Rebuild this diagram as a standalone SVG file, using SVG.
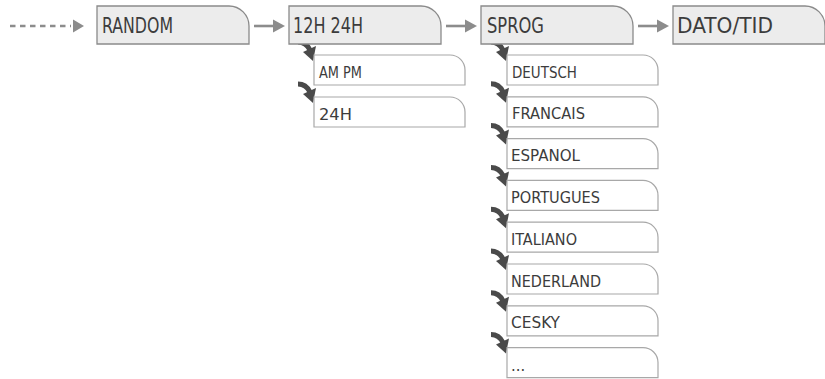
<svg xmlns="http://www.w3.org/2000/svg" xmlns:xlink="http://www.w3.org/1999/xlink" width="825" height="379" viewBox="0 0 825 379">
<style>
.main{fill:#ececec;stroke:#8a8a8a;stroke-width:1.3}
.sub{fill:#ffffff;stroke:#a8a8a8;stroke-width:1.2}
.t{font-family:"DejaVu Sans Condensed","DejaVu Sans",sans-serif;font-weight:300;fill:#3c3c3c}
.tm{font-size:21px}
.ts{font-size:16.5px}
.conn{stroke:#8c8c8c;stroke-width:2.6;fill:none}
.head{fill:#8c8c8c}
</style>
<defs>
<g id="bent">
<path d="M-16,-13 Q-8,-13 -4,-5" fill="none" stroke="#4a4a4a" stroke-width="5"/>
<polygon points="-11,-3 2,-9 -1,6" fill="#4a4a4a"/>
</g>
<path id="mainshape" d="M0,0 H132 A20,20 0 0 1 152,20 V38 H0 Z"/>
<path id="subshape" d="M0,30 V0 H136 A15,15 0 0 1 151,15 V30 Z"/>
</defs>
<g id="connectors">
<line class="conn" x1="10" y1="26" x2="71" y2="26" stroke-dasharray="5.5,4.5"/>
<polygon class="head" points="73,19.5 84,26 73,32.5"/>
<line class="conn" x1="254" y1="26" x2="275" y2="26"/>
<polygon class="head" points="273,19.5 285,26 273,32.5"/>
<line class="conn" x1="446" y1="26" x2="467" y2="26"/>
<polygon class="head" points="465,19.5 477,26 465,32.5"/>
<line class="conn" x1="638" y1="26" x2="659" y2="26"/>
<polygon class="head" points="657,19.5 669,26 657,32.5"/>
<use xlink:href="#bent" transform="translate(314,55)"/>
<use xlink:href="#bent" transform="translate(314,97)"/>
<use xlink:href="#bent" transform="translate(507,55)"/>
<use xlink:href="#bent" transform="translate(507,96.8)"/>
<use xlink:href="#bent" transform="translate(507,138.6)"/>
<use xlink:href="#bent" transform="translate(507,180.4)"/>
<use xlink:href="#bent" transform="translate(507,222.2)"/>
<use xlink:href="#bent" transform="translate(507,264)"/>
<use xlink:href="#bent" transform="translate(507,305.8)"/>
<use xlink:href="#bent" transform="translate(507,347.6)"/>
</g>
<g id="random"><use xlink:href="#mainshape" class="main" transform="translate(97,6)"/><text class="t tm" x="102" y="33" textLength="71" lengthAdjust="spacingAndGlyphs">RANDOM</text></g>
<g id="h1224"><use xlink:href="#mainshape" class="main" transform="translate(289,6)"/><text class="t tm" x="293" y="33" textLength="70" lengthAdjust="spacingAndGlyphs">12H 24H</text></g>
<g id="sprog"><use xlink:href="#mainshape" class="main" transform="translate(481,6)"/><text class="t tm" x="487" y="33" textLength="57" lengthAdjust="spacingAndGlyphs">SPROG</text></g>
<g id="datotid"><use xlink:href="#mainshape" class="main" transform="translate(673,6)"/><text class="t tm" x="677" y="33" textLength="96" lengthAdjust="spacingAndGlyphs">DATO/TID</text></g>
<g id="ampm"><use xlink:href="#subshape" class="sub" transform="translate(314,55)"/><text class="t ts" x="319" y="78" textLength="43" lengthAdjust="spacingAndGlyphs">AM PM</text></g>
<g id="h24"><use xlink:href="#subshape" class="sub" transform="translate(314,97)"/><text class="t ts" x="319" y="120" textLength="33" lengthAdjust="spacingAndGlyphs">24H</text></g>
<g id="deutsch"><use xlink:href="#subshape" class="sub" transform="translate(507,55)"/><text class="t ts" x="512" y="77.5" textLength="65" lengthAdjust="spacingAndGlyphs">DEUTSCH</text></g>
<g id="francais"><use xlink:href="#subshape" class="sub" transform="translate(507,96.8)"/><text class="t ts" x="512" y="119.3" textLength="73" lengthAdjust="spacingAndGlyphs">FRANCAIS</text></g>
<g id="espanol"><use xlink:href="#subshape" class="sub" transform="translate(507,138.6)"/><text class="t ts" x="511" y="161.1" textLength="69" lengthAdjust="spacingAndGlyphs">ESPANOL</text></g>
<g id="portugues"><use xlink:href="#subshape" class="sub" transform="translate(507,180.4)"/><text class="t ts" x="511" y="202.9" textLength="89" lengthAdjust="spacingAndGlyphs">PORTUGUES</text></g>
<g id="italiano"><use xlink:href="#subshape" class="sub" transform="translate(507,222.2)"/><text class="t ts" x="511" y="244.7" textLength="66" lengthAdjust="spacingAndGlyphs">ITALIANO</text></g>
<g id="nederland"><use xlink:href="#subshape" class="sub" transform="translate(507,264)"/><text class="t ts" x="511" y="286.5" textLength="90" lengthAdjust="spacingAndGlyphs">NEDERLAND</text></g>
<g id="cesky"><use xlink:href="#subshape" class="sub" transform="translate(507,305.8)"/><text class="t ts" x="511" y="328.3" textLength="49" lengthAdjust="spacingAndGlyphs">CESKY</text></g>
<g id="more"><use xlink:href="#subshape" class="sub" transform="translate(507,347.6)"/><text class="t ts" x="511" y="371" font-size="12">...</text></g>
</svg>
